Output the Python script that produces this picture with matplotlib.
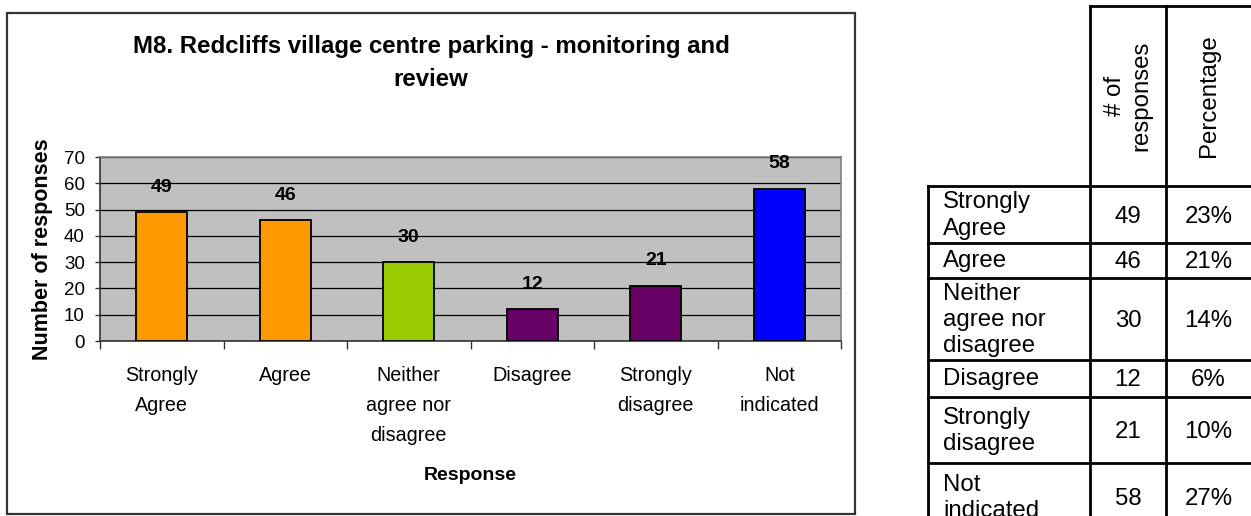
import matplotlib
matplotlib.use('Agg')
import matplotlib.pyplot as plt
from matplotlib.lines import Line2D
from matplotlib.patches import Rectangle

# ---------------- data ----------------
categories = ["Strongly\nAgree", "Agree", "Neither\nagree nor\ndisagree",
              "Disagree", "Strongly\ndisagree", "Not\nindicated"]
responses = [49, 46, 30, 12, 21, 58]
bar_colors = ["#FF9900", "#FF9900", "#99CC00", "#660066", "#660066", "#0000FF"]
yticks = [0, 10, 20, 30, 40, 50, 60, 70]
title = "M8. Redcliffs village centre parking - monitoring and\nreview"
xlabel = "Response"
ylabel = "Number of responses"

table_headers = ["# of\nresponses", "Percentage"]
table_labels = ["Strongly\nAgree", "Agree", "Neither\nagree nor\ndisagree",
                "Disagree", "Strongly\ndisagree", "Not\nindicated"]
table_counts = [49, 46, 30, 12, 21, 58]
table_percent = ["23%", "21%", "14%", "6%", "10%", "27%"]

# ---------------- figure ----------------
W, H, DPI = 1251, 516, 100
plt.rcParams['font.family'] = ['Liberation Sans', 'DejaVu Sans']
fig = plt.figure(figsize=(W / DPI, H / DPI), dpi=DPI)
fig.patch.set_facecolor('white')


def fx(x):
    return x / W


def fy(y):
    return 1 - y / H


# chart outer box
fig.patches.append(Rectangle((fx(7), fy(514)), fx(855) - fx(7), fy(13) - fy(514),
                             transform=fig.transFigure, fill=False,
                             edgecolor='#333333', lw=1.6))

ax = fig.add_axes([fx(100), fy(341), fx(841) - fx(100), fy(157) - fy(341)])
ax.set_facecolor('#C0C0C0')
xs = list(range(len(responses)))
ax.bar(xs, responses, width=0.41, color=bar_colors, edgecolor='black',
       linewidth=1.3, zorder=3)
ax.set_xlim(-0.5, len(responses) - 0.5)
ax.set_ylim(yticks[0], yticks[-1])
ax.set_yticks(yticks)
ax.yaxis.grid(True, color='black', lw=0.9, zorder=1)
ax.set_axisbelow(True)

# x ticks: boundaries as major ticks, labels on minor ticks at centres
ax.set_xticks([i - 0.5 for i in range(len(responses) + 1)])
ax.set_xticklabels([])
ax.set_xticks(xs, minor=True)
ax.set_xticklabels(categories, minor=True, fontsize=14.2, linespacing=1.72)
ax.tick_params(axis='x', which='major', length=5.5, width=1, color='#333333', direction='out')
ax.tick_params(axis='x', which='minor', length=0, pad=18)
ax.tick_params(axis='y', length=3.8, width=1, color='#333333', pad=7, labelsize=13.5)

for s in ['top', 'right']:
    ax.spines[s].set_color('#808080')
    ax.spines[s].set_linewidth(1.2)
for s in ['left', 'bottom']:
    ax.spines[s].set_color('#333333')
    ax.spines[s].set_linewidth(1.2)

for xi, v in zip(xs, responses):
    ax.annotate(str(v), (xi, v), xytext=(0, 18), textcoords='offset points',
                ha='center', va='center', fontsize=14, fontweight='bold')

ax.set_ylabel(ylabel, fontsize=15.5, fontweight='bold', va='center')
ax.yaxis.set_label_coords((43 - 100) / 741, 0.5)
ax.set_xlabel(xlabel, fontsize=14, fontweight='bold', va='center')
ax.xaxis.set_label_coords(0.5, (341 - 476) / 184)

fig.text(fx(431), fy(63), title, ha='center', va='center', fontsize=17.3,
         fontweight='bold', linespacing=1.6, multialignment='center')

# ---------------- table ----------------
col_x = [928, 1090, 1166, W]
row_y = [186, 243, 278, 360, 397, 463, 531]
tlw = 2.0
tfs = 17.3


def line(x0, y0, x1, y1):
    fig.add_artist(Line2D([fx(x0), fx(x1)], [fy(y0), fy(y1)], transform=fig.transFigure,
                          color='black', lw=tlw, solid_capstyle='projecting'))


line(col_x[1], 6, col_x[3], 6)
for y in row_y:
    line(col_x[0], y, col_x[3], y)
line(col_x[0], row_y[0], col_x[0], H + 5)
line(col_x[1], 6, col_x[1], H + 5)
line(col_x[2], 6, col_x[2], H + 5)

hdr_y = 96
fig.text(fx((col_x[1] + col_x[2]) / 2), fy(hdr_y), table_headers[0], rotation=90,
         ha='center', va='center', fontsize=tfs, linespacing=1.25, multialignment='center')
fig.text(fx((col_x[2] + col_x[3]) / 2), fy(hdr_y), table_headers[1], rotation=90,
         ha='center', va='center', fontsize=tfs)

for i in range(len(table_labels)):
    yc = (row_y[i] + row_y[i + 1]) / 2
    fig.text(fx(943), fy(yc + 1), table_labels[i], ha='left', va='center',
             fontsize=tfs, linespacing=1.25)
    fig.text(fx((col_x[1] + col_x[2]) / 2), fy(yc + 2), str(table_counts[i]),
             ha='center', va='center', fontsize=tfs)
    fig.text(fx((col_x[2] + col_x[3]) / 2), fy(yc + 2), table_percent[i],
             ha='center', va='center', fontsize=tfs)

fig.savefig('out.png', dpi=DPI, facecolor='white')
